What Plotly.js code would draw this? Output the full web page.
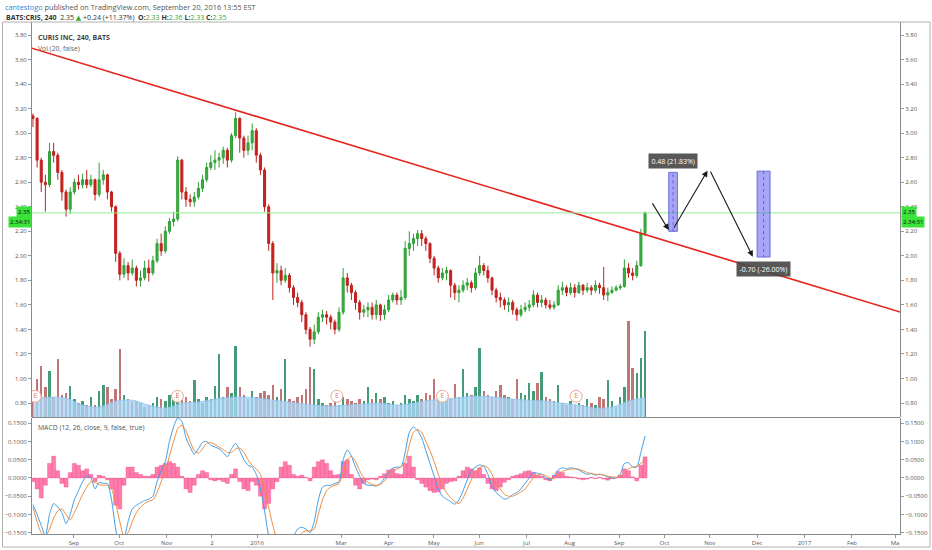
<!DOCTYPE html>
<html><head><meta charset="utf-8">
<script src="https://cdn.plot.ly/plotly-3.0.1.min.js"></script>
<style>html,body{margin:0;padding:0;background:#fff;}#chart{width:932px;height:550px;}</style>
</head><body><div id="chart"></div>
<script>
// ---------------- DATA ----------------
const firstBarDate = '2015-08-05';
const lastBarDate = '2016-09-20';
const holidays = ['2015-09-07','2015-11-26','2015-12-25','2016-01-01','2016-01-18','2016-02-15','2016-03-25','2016-05-30','2016-07-04','2016-09-05'];
const firstOpen = 3.14;
const closes = [3.12,2.78,2.60,2.58,2.85,2.82,2.68,2.52,2.38,2.52,
 2.60,2.58,2.62,2.58,2.62,2.50,2.62,2.66,2.52,2.40,
 2.02,1.85,1.92,1.86,1.90,1.80,1.82,1.90,1.86,1.96,
 2.10,2.04,2.20,2.28,2.30,2.78,2.52,2.46,2.44,2.48,
 2.55,2.62,2.72,2.76,2.78,2.80,2.86,2.78,2.98,3.12,
 2.96,2.86,2.92,3.02,2.82,2.70,2.40,2.10,1.86,1.88,
 1.80,1.84,1.74,1.66,1.62,1.52,1.40,1.32,1.38,1.50,
 1.52,1.50,1.46,1.40,1.54,1.82,1.76,1.70,1.62,1.54,
 1.56,1.58,1.52,1.60,1.52,1.56,1.64,1.68,1.64,1.66,
 2.06,2.10,2.14,2.18,2.14,2.10,1.98,1.90,1.82,1.86,
 1.88,1.76,1.70,1.72,1.76,1.78,1.74,1.86,1.92,1.88,
 1.82,1.72,1.66,1.64,1.60,1.62,1.56,1.52,1.56,1.58,
 1.60,1.68,1.62,1.64,1.60,1.58,1.60,1.72,1.74,1.70,
 1.74,1.70,1.76,1.72,1.74,1.72,1.76,1.74,1.68,1.70,
 1.72,1.74,1.75,1.90,1.86,1.84,1.92,2.18,2.35];
const highs = [3.16,3.13,2.80,2.66,2.92,2.92,2.84,2.70,2.54,2.56,
 2.63,2.66,2.67,2.70,2.66,2.63,2.76,2.70,2.67,2.53,
 2.41,2.04,1.98,1.95,1.97,1.92,1.88,1.96,1.97,2.00,
 2.14,2.18,2.24,2.31,2.36,2.81,2.79,2.56,2.50,2.52,
 2.60,2.66,2.76,2.82,2.86,2.84,2.89,2.88,3.00,3.17,
 3.13,2.98,2.98,3.08,3.04,2.84,2.72,2.42,2.12,1.94,
 1.92,1.90,1.86,1.76,1.70,1.64,1.54,1.42,1.44,1.54,
 1.56,1.55,1.52,1.48,1.58,1.90,1.86,1.78,1.72,1.64,
 1.60,1.62,1.62,1.64,1.61,1.60,1.68,1.70,1.70,1.72,
 2.12,2.20,2.18,2.21,2.21,2.16,2.11,2.00,1.92,1.90,
 1.91,1.89,1.78,1.76,1.80,1.82,1.80,1.90,2.00,1.94,
 1.92,1.83,1.74,1.70,1.66,1.66,1.64,1.58,1.60,1.62,
 1.64,1.72,1.70,1.68,1.66,1.64,1.63,1.76,1.79,1.76,
 1.78,1.77,1.79,1.77,1.78,1.76,1.80,1.78,1.91,1.74,
 1.75,1.76,1.77,1.97,1.94,1.90,1.96,2.22,2.36];
const lows = [3.05,2.72,2.52,2.36,2.56,2.76,2.62,2.45,2.32,2.34,
 2.50,2.54,2.55,2.55,2.56,2.45,2.48,2.58,2.46,2.36,
 1.95,1.80,1.82,1.80,1.84,1.75,1.75,1.80,1.79,1.84,
 1.94,2.00,2.02,2.18,2.24,2.28,2.46,2.40,2.40,2.40,
 2.46,2.52,2.60,2.70,2.70,2.72,2.75,2.72,2.76,2.96,
 2.84,2.80,2.82,2.86,2.76,2.66,2.36,2.04,1.64,1.78,
 1.76,1.78,1.70,1.60,1.58,1.46,1.36,1.26,1.28,1.36,
 1.46,1.44,1.40,1.36,1.38,1.52,1.70,1.64,1.56,1.48,
 1.50,1.50,1.48,1.48,1.47,1.48,1.54,1.62,1.60,1.60,
 1.64,2.00,2.04,2.08,2.08,2.04,1.94,1.84,1.78,1.80,
 1.80,1.66,1.64,1.62,1.70,1.72,1.70,1.72,1.84,1.84,
 1.78,1.68,1.62,1.58,1.56,1.54,1.52,1.47,1.50,1.54,
 1.55,1.58,1.58,1.58,1.57,1.56,1.56,1.59,1.68,1.67,
 1.68,1.66,1.69,1.68,1.70,1.68,1.70,1.69,1.64,1.63,
 1.69,1.71,1.72,1.74,1.82,1.80,1.82,1.91,2.16];
const volumes = [15,38,52,30,47,20,59,22,24,31,
 18,14,16,12,20,12,26,32,30,18,
 28,69,22,18,15,16,14,10,12,14,
 20,18,16,22,20,26,18,20,16,37,
 18,14,20,18,31,64,20,30,24,72,
 30,22,18,26,20,24,26,22,32,20,
 28,59,18,16,20,22,28,51,49,18,
 14,12,14,16,12,20,18,16,14,18,
 16,30,18,24,18,20,14,16,12,14,
 22,18,16,22,18,24,22,38,20,16,
 22,18,33,20,49,24,22,30,70,26,
 22,20,26,32,22,20,18,38,24,22,
 34,26,34,46,20,18,16,32,14,12,
 16,12,14,12,18,14,12,20,18,37,
 16,10,20,30,97,50,45,60,87];
const volumeMA = [18,20,19,12,10,16,17,12,9,14,15,18,20,20,18,16,14,12,11,12,13,14,12,14,17,18,20,21,20,18,17,16,14,12,9,10,16,20];
const macdLine = [-0.073,-0.10,-0.13,-0.16,-0.10,-0.07,-0.08,-0.095,-0.125,-0.10,
 -0.06,-0.035,-0.01,0.005,0.0,-0.03,-0.012,-0.015,-0.015,-0.06,
 -0.14,-0.19,-0.17,-0.12,-0.085,-0.075,-0.068,-0.062,-0.058,-0.05,
 -0.01,0.02,0.045,0.10,0.14,0.165,0.155,0.11,0.085,0.065,
 0.08,0.098,0.10,0.09,0.085,0.08,0.07,0.058,0.08,0.095,
 0.075,0.05,0.035,0.03,0.01,-0.03,-0.09,-0.16,-0.20,-0.22,
 -0.22,-0.20,-0.18,-0.16,-0.14,-0.135,-0.14,-0.15,-0.12,-0.06,
 -0.025,-0.02,-0.02,-0.015,-0.01,0.05,0.077,0.06,0.03,0.005,
 -0.015,-0.02,-0.02,-0.022,-0.015,0.0,0.015,0.027,0.03,0.03,
 0.07,0.125,0.14,0.13,0.11,0.075,0.04,0.005,-0.03,-0.05,
 -0.058,-0.065,-0.072,-0.06,-0.035,-0.005,0.02,0.03,0.036,0.032,
 0.01,-0.025,-0.04,-0.05,-0.058,-0.055,-0.045,-0.04,-0.03,-0.015,
 0.0,0.015,0.013,0.01,0.0,-0.005,0.005,0.022,0.028,0.025,
 0.028,0.026,0.022,0.015,0.01,0.012,0.008,0.01,0.008,0.002,
 0.0,0.0,0.01,0.04,0.042,0.03,0.03,0.07,0.115];
const signalLine = [-0.08,-0.12,-0.15,-0.16,-0.14,-0.11,-0.09,-0.085,-0.10,-0.115,
 -0.095,-0.07,-0.045,-0.025,-0.01,-0.012,-0.018,-0.02,-0.02,-0.03,
 -0.07,-0.12,-0.16,-0.15,-0.12,-0.095,-0.08,-0.07,-0.064,-0.06,
 -0.04,-0.01,0.02,0.06,0.10,0.135,0.145,0.13,0.10,0.075,
 0.068,0.08,0.095,0.097,0.092,0.085,0.078,0.07,0.07,0.08,
 0.082,0.07,0.05,0.035,0.025,0.01,-0.03,-0.08,-0.13,-0.17,
 -0.20,-0.21,-0.20,-0.185,-0.165,-0.15,-0.145,-0.145,-0.14,-0.10,
 -0.06,-0.035,-0.025,-0.02,-0.015,0.015,0.05,0.06,0.045,0.02,
 0.0,-0.012,-0.018,-0.02,-0.018,-0.008,0.005,0.018,0.025,0.03,
 0.045,0.09,0.125,0.133,0.125,0.10,0.075,0.045,0.01,-0.02,
 -0.04,-0.055,-0.065,-0.07,-0.055,-0.03,-0.005,0.015,0.028,0.033,
 0.028,0.01,-0.015,-0.03,-0.045,-0.05,-0.05,-0.045,-0.038,-0.03,
 -0.015,0.0,0.008,0.01,0.006,0.0,-0.002,0.008,0.018,0.022,
 0.024,0.025,0.024,0.02,0.015,0.012,0.01,0.01,0.008,0.005,
 0.003,0.002,0.004,0.015,0.025,0.03,0.032,0.04,0.05];
const macdHist = [-0.01,-0.03,-0.055,-0.02,0.04,0.06,0.02,-0.015,-0.025,0.015,
 0.04,0.035,0.02,0.025,0.01,-0.01,0.008,0.005,-0.005,-0.03,
 -0.075,-0.085,-0.02,0.03,0.03,0.015,0.01,0.005,0.005,0.01,
 0.03,0.035,0.04,0.045,0.04,0.03,0.005,-0.03,-0.04,-0.02,
 0.01,0.02,0.015,-0.005,-0.008,-0.005,-0.01,-0.015,0.01,0.025,
 -0.01,-0.03,-0.035,-0.01,-0.02,-0.05,-0.085,-0.07,-0.03,-0.01,
 0.03,0.045,0.035,0.01,0.005,0.008,0.002,-0.008,0.03,0.045,
 0.05,0.04,0.02,0.008,0.01,0.045,0.05,0.01,-0.02,-0.03,
 -0.015,-0.005,-0.003,-0.005,0.005,0.012,0.022,0.025,0.012,0.01,
 0.04,0.06,0.03,-0.005,-0.015,-0.025,-0.035,-0.04,-0.038,-0.03,
 -0.015,-0.01,-0.008,0.005,0.02,0.03,0.025,0.02,0.028,0.01,
 -0.015,-0.03,-0.035,-0.025,-0.012,-0.005,0.005,0.008,0.012,0.018,
 0.02,0.015,0.008,0.005,-0.005,-0.008,0.008,0.018,0.015,0.005,
 0.003,0.002,-0.003,-0.005,-0.003,0.002,-0.002,0.002,-0.003,-0.006,
 -0.002,0.001,0.008,0.025,0.02,0.003,-0.008,0.035,0.058];
const earningsDates = ['2015-08-06','2015-11-09','2016-02-26','2016-05-06','2016-08-04'];
const tickDates = ['2015-09-01','2015-10-01','2015-11-01','2015-12-02','2016-01-01','2016-03-01','2016-04-01','2016-05-01','2016-06-01','2016-07-01','2016-08-01','2016-09-01','2016-10-01','2016-11-01','2016-12-01','2017-01-01','2017-02-01','2017-03-01'];
const tickLabels = ['Sep','Oct','Nov','2','2016','Mar','Apr','May','Jun','Jul','Aug','Sep','Oct','Nov','Dec','2017','Feb','Ma'];
const trendDates = ['2015-08-04','2017-03-06'];
const trendPrices = [3.695, 1.538];
const rectDates = [['2016-10-05','2016-10-11'],['2016-12-01','2016-12-09']];
const rectPrices = [[2.20,2.68],[2.69,1.99]];
const measureLabels = ['0.48 (21.83%)','-0.70 (-26.00%)'];
const measureLabelDates = ['2016-10-07','2016-12-06'];
const measureLabelPrices = [2.77, 1.895];
const arrowFromDates = ['2016-09-23','2016-10-07','2016-11-01'];
const arrowFromPrices = [2.44, 2.216, 2.70];
const arrowToDates = ['2016-10-05','2016-10-31','2016-11-29'];
const arrowToPrices = [2.21, 2.694, 1.993];

// ---------------- trading-day scale ----------------
const DAY = 86400000;
function parseD(s){const p=s.split('-').map(Number);return Date.UTC(p[0],p[1]-1,p[2]);}
const holidaySet = new Set(holidays.map(parseD));
function isTD(d){const w=new Date(d).getUTCDay();return w!==0&&w!==6&&!holidaySet.has(d);}
function tdIndex(s){
  const t=parseD(s), t0=parseD(firstBarDate); let n=0;
  if(t>=t0){for(let d=t0;d<t;d+=DAY) if(isTD(d)) n++;}
  else {for(let d=t;d<t0;d+=DAY) if(isTD(d)) n--;}
  return n;
}
const N = closes.length;
const lastIdx = tdIndex(lastBarDate);
const step = lastIdx/(N-1);
const xs = closes.map((_,i)=>i*step);
const opens = closes.map((c,i)=> i===0 ? firstOpen : closes[i-1]);
const xsMA = volumeMA.map((_,k)=>k*4*step);

// ---------------- geometry helpers (pixels -> paper) ----------------
const W=932,H=550,ML=32,MR=32,MT=22,MB=16;
const PW=W-ML-MR, PH=H-MT-MB;
const px=x=>(x-ML)/PW, py=y=>(H-MB-y)/PH;

const green='#2f9e36', red='#c0201e';
const font='"Open Sans", "DejaVu Sans", sans-serif';

const traces = [];
traces.push({type:'scatter',x:xsMA,y:volumeMA,mode:'lines',line:{color:'rgba(150,200,240,0.9)',width:1,shape:'spline'},
  fill:'tozeroy',fillcolor:'rgba(170,212,245,0.8)',xaxis:'x',yaxis:'y5',hoverinfo:'skip'});
traces.push({type:'bar',x:xs,y:volumes,width:step*0.6,
  marker:{color:closes.map((c,i)=>c>=opens[i]?'rgba(34,138,96,0.85)':'rgba(168,72,72,0.75)'),line:{width:0}},
  xaxis:'x',yaxis:'y5',hoverinfo:'skip'});
traces.push({type:'scatter',x:earningsDates.map(tdIndex),y:earningsDates.map(()=>21),mode:'markers+text',text:earningsDates.map(()=>'E'),
  textposition:'middle center',textfont:{family:font,size:7,color:'#e07a62'},
  marker:{symbol:'circle',size:12,color:'rgba(255,255,255,0.9)',line:{color:'#f0a58f',width:1}},xaxis:'x',yaxis:'y5',hoverinfo:'skip'});
traces.push({type:'candlestick',x:xs,open:opens,high:highs,low:lows,close:closes,xaxis:'x',yaxis:'y',
  increasing:{line:{color:green,width:1},fillcolor:'#38b23f'},decreasing:{line:{color:red,width:1},fillcolor:'#c8211f'},
  whiskerwidth:0,hoverinfo:'skip'});
traces.push({type:'scatter',x:trendDates.map(tdIndex),y:trendPrices,mode:'lines',line:{color:'#e5221b',width:1.6},xaxis:'x',yaxis:'y2',hoverinfo:'skip'});
traces.push({type:'bar',x:xs,y:macdHist,width:step,marker:{color:'rgba(255,90,150,0.8)',line:{color:'rgba(230,40,110,0.6)',width:0.4}},xaxis:'x',yaxis:'y3',hoverinfo:'skip'});
traces.push({type:'scatter',x:xs,y:macdLine,mode:'lines',line:{color:'#3d9ee8',width:1,shape:'spline',smoothing:0.6},xaxis:'x',yaxis:'y3',hoverinfo:'skip'});
traces.push({type:'scatter',x:xs,y:signalLine,mode:'lines',line:{color:'#f08a3c',width:1,shape:'spline',smoothing:0.6},xaxis:'x',yaxis:'y4',hoverinfo:'skip'});

const axFont={family:font,size:6,color:'#555'};
const priceRange=[0.686,3.906], macdRange=[-0.1536,0.1645];
const mainDom=[py(417),1], macdDom=[0,py(418)];
const yCommon={showgrid:false,zeroline:false,showline:true,linecolor:'#8a8a8a',linewidth:1,ticks:'outside',ticklen:3,tickcolor:'#999',tickfont:axFont,fixedrange:true};

const shapes=[];
// frame
shapes.push({type:'rect',xref:'paper',yref:'paper',x0:px(2.5),x1:px(930),y0:py(547),y1:py(22),line:{color:'#b0b0b0',width:1},fillcolor:'rgba(0,0,0,0)'});
shapes.push({type:'line',xref:'paper',yref:'paper',x0:0,x1:1,y0:py(417.5),y1:py(417.5),line:{color:'#8a8a8a',width:1}});
// last price line
shapes.push({type:'line',xref:'paper',yref:'y',x0:0,x1:1,y0:closes[N-1],y1:closes[N-1],line:{color:'#96ec96',width:1}});
// measurement rectangles
rectDates.forEach((d,k)=>{
  const x0=tdIndex(d[0]),x1=tdIndex(d[1]);
  shapes.push({type:'rect',xref:'x',yref:'y',x0:x0,x1:x1,y0:rectPrices[k][0],y1:rectPrices[k][1],fillcolor:'rgba(112,112,238,0.62)',line:{color:'#6b6bdf',width:1}});
  shapes.push({type:'line',xref:'x',yref:'y',x0:(x0+x1)/2,x1:(x0+x1)/2,y0:rectPrices[k][0],y1:rectPrices[k][1],line:{color:'rgba(70,70,190,0.7)',width:1,dash:'dot'}});
});

const ann=[];
function txt(x,y,t,opt){ann.push(Object.assign({xref:'paper',yref:'paper',x:px(x),y:py(y),text:t,showarrow:false,xanchor:'left',yanchor:'middle',font:{family:font,size:7,color:'#444'}},opt||{}));}
const g='#3aa832';
txt(3,7,"<span style='color:#2b86d3'>cantestogo</span> published on TradingView.com, September 20, 2016 13:55 EST",{font:{family:font,size:7.3,color:'#555'}});
txt(4,17,"<b>BATS:CRIS, 240</b>  2.35 <span style='color:"+g+"'>▲</span> +0.24 (+11.37%)  <b>O:</b><span style='color:"+g+"'>2.33</span> <b>H:</b><span style='color:"+g+"'>2.36</span> <b>L:</b><span style='color:"+g+"'>2.33</span> <b>C:</b><span style='color:"+g+"'>2.35</span>",{font:{family:font,size:7,color:'#333'}});
txt(36,37,"<b>CURIS INC, 240, BATS</b>",{font:{family:font,size:7,color:'#444'}});
txt(36,48,"Vol (20, false)",{font:{family:font,size:6.8,color:'#666'}});
txt(36,427,"MACD (12, 26, close, 9, false, true)",{font:{family:font,size:6.8,color:'#555'}});
// price flags
const flag={bgcolor:'#3ae23a',borderpad:1,font:{family:font,size:6,color:'#111'}};
txt(32,212.3,"2.35",Object.assign({xanchor:'right'},flag));
txt(32,222,"2.34:31",Object.assign({xanchor:'right'},flag));
txt(900.5,212.3,"2.35",Object.assign({xanchor:'left'},flag));
txt(900.5,222,"2.34:31",Object.assign({xanchor:'left'},flag));
// measurement labels
measureLabels.forEach((t,k)=>{
  ann.push({xref:'x',yref:'y',x:tdIndex(measureLabelDates[k]),y:measureLabelPrices[k],text:t,showarrow:false,
    bgcolor:'rgba(70,70,70,0.9)',borderpad:2.5,font:{family:font,size:7,color:'#fff'}});
});
// arrows
arrowFromDates.forEach((d,k)=>{
  ann.push({xref:'x',yref:'y',axref:'x',ayref:'y',x:tdIndex(arrowToDates[k]),y:arrowToPrices[k],ax:tdIndex(d),ay:arrowFromPrices[k],
    text:'',showarrow:true,arrowhead:2,arrowsize:1.1,arrowwidth:1.1,arrowcolor:'#1a1a1a'});
});

const layout={
  width:W,height:H,margin:{l:ML,r:MR,t:MT,b:MB,pad:0},paper_bgcolor:'#fff',plot_bgcolor:'#fff',
  showlegend:false,font:{family:font,size:7,color:'#555'},bargap:0,barmode:'overlay',
  xaxis:{range:[tdIndex(firstBarDate)-0.45,tdIndex('2017-03-03')+0.3],anchor:'y3',tickvals:tickDates.map(tdIndex),ticktext:tickLabels,
    showgrid:false,zeroline:false,showline:true,linecolor:'#8a8a8a',ticks:'outside',ticklen:3,tickcolor:'#999',tickfont:axFont,
    rangeslider:{visible:false},fixedrange:true},
  yaxis:Object.assign({},yCommon,{domain:mainDom,range:priceRange,side:'left',tick0:0.8,dtick:0.2,tickformat:'.2f',anchor:'x'}),
  yaxis2:Object.assign({},yCommon,{overlaying:'y',range:priceRange,side:'right',tick0:0.8,dtick:0.2,tickformat:'.2f',anchor:'x'}),
  yaxis3:Object.assign({},yCommon,{domain:macdDom,range:macdRange,side:'left',tick0:-0.15,dtick:0.05,tickformat:'.4f',anchor:'x'}),
  yaxis4:Object.assign({},yCommon,{overlaying:'y3',range:macdRange,side:'right',tick0:-0.15,dtick:0.05,tickformat:'.4f',anchor:'x'}),
  yaxis5:{overlaying:'y',range:[0,400],visible:false,fixedrange:true},
  shapes:shapes,annotations:ann
};
Plotly.newPlot('chart',traces,layout,{staticPlot:true,displayModeBar:false});
</script></body></html>
